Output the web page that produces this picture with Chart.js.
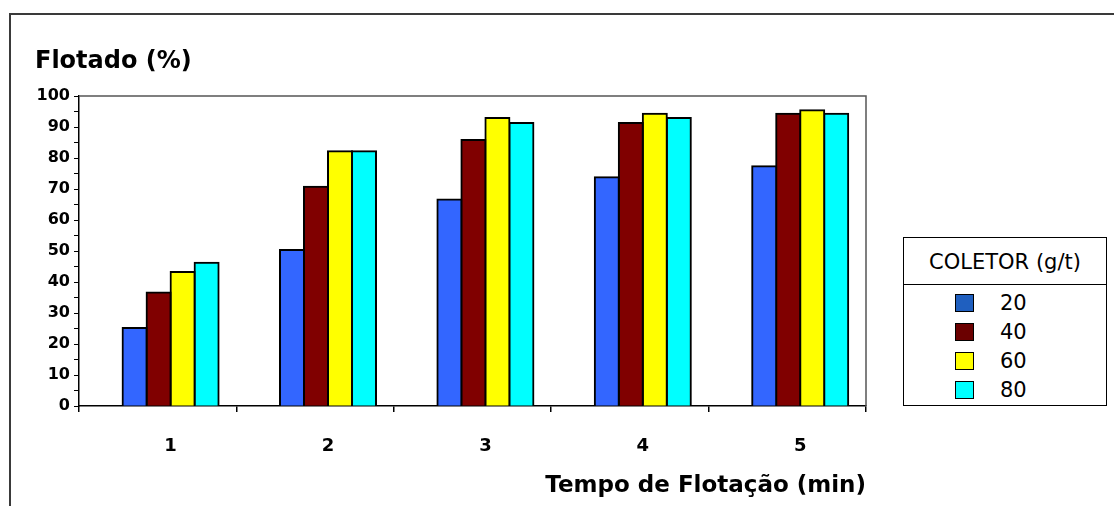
<!DOCTYPE html>
<html>
<head>
<meta charset="utf-8">
<title>Flotado x Tempo de Flotação</title>
<script src="https://cdn.jsdelivr.net/npm/chart.js@4.4.0/dist/chart.umd.min.js"></script>
<style>
    html, body { margin: 0; padding: 0; background: #fff; }
    body { width: 1114px; height: 506px; position: relative; overflow: hidden;
           font-family: "DejaVu Sans", Verdana, sans-serif; color: #000; }
    #frame { position: absolute; left: 9px; top: 13px; width: 1200px; height: 600px;
             border: 2px solid #3a3a3a; }
    #wrap { position: absolute; left: 0; top: 0; width: 1114px; height: 506px; }
    #legend { position: absolute; left: 903px; top: 237px; width: 202px; height: 167px;
              border: 1.5px solid #000; background: #fff; }
    #legend .head { height: 46px; line-height: 48px; text-align: center; font-size: 21px;
                    border-bottom: 1.5px solid #000; margin-bottom: 3px; }
    #legend .row { height: 29px; display: flex; align-items: center; font-size: 21px; }
    #legend .sw { width: 17px; height: 16px; border: 1.5px solid #000;
                  margin-left: 51px; margin-right: 26px; }
</style>
</head>
<body>
<div id="frame"></div>
<div id="wrap"><canvas id="flotChart"></canvas></div>
<div id="legend"></div>

<script>
// Data
const temposMin = [1, 2, 3, 4, 5];
const coletorDoses = ['20', '40', '60', '80'];
const flotado20 = [25.2, 50.3, 66.6, 73.8, 77.3];
const flotado40 = [36.6, 70.7, 85.8, 91.3, 94.3];
const flotado60 = [43.2, 82.2, 92.9, 94.3, 95.4];
const flotado80 = [46.2, 82.2, 91.3, 92.9, 94.3];
const yMin = 0;
const yMax = 100;
const yStep = 10;

// Styling
const barColors = ['#3366ff', '#800000', '#ffff00', '#00ffff'];
const legendSwatches = ['#1f5fbf', '#6b0000', '#ffff00', '#00ffff'];
const groupShift = 0.418;   // bars sit right of the category centres in the original

Chart.defaults.font.family = '"DejaVu Sans", Verdana, sans-serif';
Chart.defaults.color = '#000';

const series = [flotado20, flotado40, flotado60, flotado80];

// Plot frame (top and right edges)
const framePlugin = {
    id: 'plotFrame',
    afterDraw(chart) {
        const { ctx, chartArea: a } = chart;
        ctx.save();
        ctx.strokeStyle = '#555';
        ctx.lineWidth = 1.5;
        ctx.beginPath();
        ctx.moveTo(a.left, a.top);
        ctx.lineTo(a.right, a.top);
        ctx.lineTo(a.right, a.bottom);
        ctx.stroke();
        ctx.restore();
    }
};

// Legend box built from the chart's datasets
const htmlLegend = {
    id: 'htmlLegend',
    afterUpdate(chart) {
        const box = document.getElementById('legend');
        box.innerHTML = '';
        const head = document.createElement('div');
        head.className = 'head';
        head.textContent = 'COLETOR (g/t)';
        box.appendChild(head);
        chart.data.datasets.forEach((ds, i) => {
            const row = document.createElement('div');
            row.className = 'row';
            const sw = document.createElement('span');
            sw.className = 'sw';
            sw.style.background = legendSwatches[i];
            const txt = document.createElement('span');
            txt.textContent = ds.label;
            row.appendChild(sw);
            row.appendChild(txt);
            box.appendChild(row);
        });
    }
};

const ctx = document.getElementById('flotChart').getContext('2d');
const flotChart = new Chart(ctx, {
    type: 'bar',
    data: {
        labels: temposMin,
        datasets: coletorDoses.map((dose, i) => ({
            label: dose,
            data: series[i].map((v, j) => ({ x: temposMin[j], y: v })),
            xAxisID: 'x',
            backgroundColor: barColors[i],
            borderColor: '#000',
            borderWidth: 2,
            inflateAmount: 1,
            categoryPercentage: 0.61,
            barPercentage: 1.0
        }))
    },
    options: {
        responsive: true,
        maintainAspectRatio: false,
        animation: false,
        layout: { padding: { left: 35, right: 248, top: 0, bottom: 0 } },
        scales: {
            x: {
                type: 'linear',
                position: 'bottom',
                weight: 1,
                offset: false,
                min: groupShift,
                max: groupShift + temposMin.length,
                afterBuildTicks: scale => {
                    scale.ticks = temposMin.map(t => ({ value: t }));
                },
                afterFit: scale => { scale.height = 94; },
                grid: { display: false, drawTicks: false, offset: false },
                border: { display: false },
                ticks: {
                    padding: 24,
                    font: { size: 18, weight: 'bold' },
                    callback: v => String(v)
                },
                title: {
                    display: true,
                    text: 'Tempo de Flotação (min)',
                    align: 'end',
                    font: { size: 23, weight: 'bold' },
                    padding: { top: 6, bottom: 6 }
                }
            },
            xt: {
                type: 'linear',
                axis: 'x',
                position: 'bottom',
                weight: 0,
                offset: false,
                min: groupShift,
                max: groupShift + temposMin.length,
                afterBuildTicks: scale => {
                    scale.ticks = [0, 1, 2, 3, 4, 5].map(j => ({ value: groupShift + j }));
                },
                afterFit: scale => { scale.height = 6; },
                grid: { drawOnChartArea: false, offset: false, tickLength: 6, color: '#000', lineWidth: 1.5 },
                border: { display: true, color: '#000', width: 1.5 },
                ticks: { display: false }
            },
            y: {
                min: yMin,
                max: yMax,
                afterFit: scale => { scale.width = 44; },
                grid: { drawOnChartArea: false, tickLength: 5, color: '#000', lineWidth: 1 },
                border: { display: true, color: '#000', width: 1.5 },
                ticks: {
                    stepSize: yStep / 2,
                    autoSkip: false,
                    padding: 4,
                    font: { size: 16, weight: 'bold' },
                    callback: v => (v % yStep === 0 ? v : '')
                }
            }
        },
        plugins: {
            legend: { display: false },
            tooltip: { enabled: false },
            title: {
                display: true,
                text: 'Flotado (%)',
                align: 'start',
                font: { size: 24, weight: 'bold' },
                padding: { top: 47, bottom: 20.2 }
            }
        }
    },
    plugins: [framePlugin, htmlLegend]
});
</script>
</body>
</html>
